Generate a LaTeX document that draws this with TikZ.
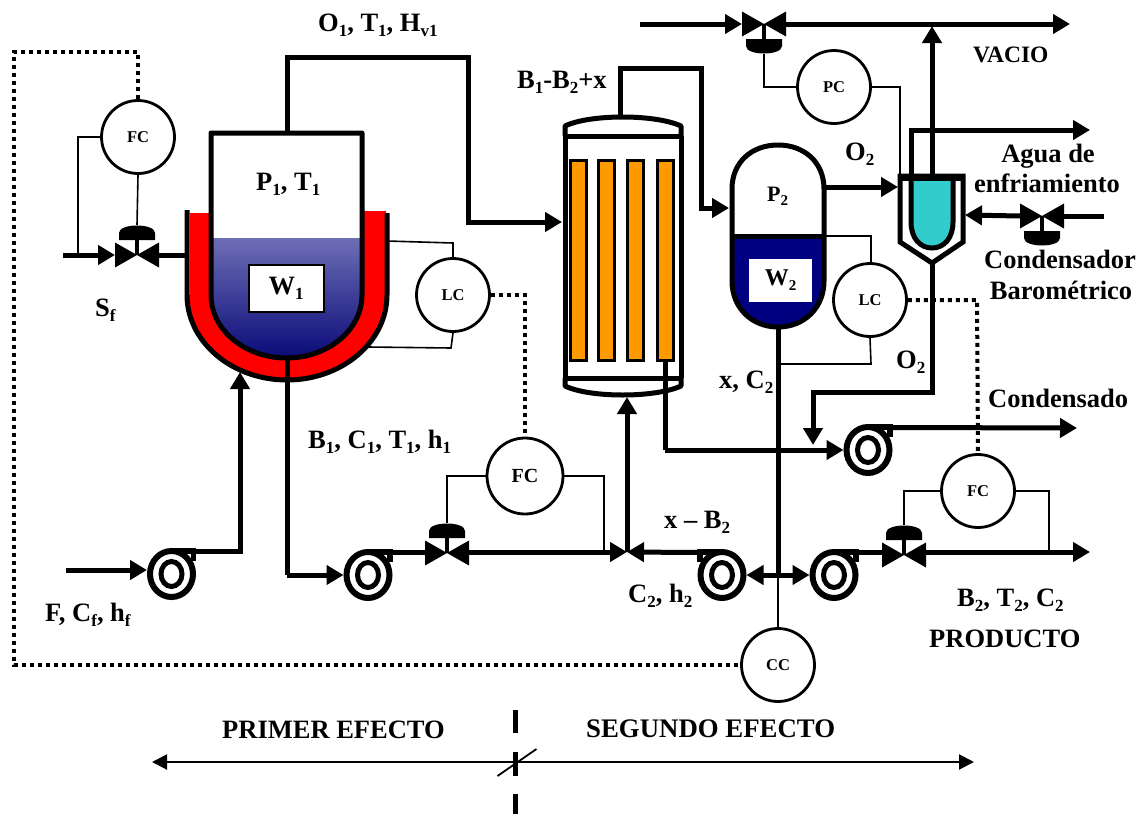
\documentclass[tikz,border=0pt]{standalone}
\usepackage{fontspec}
\setmainfont{Liberation Serif}
\usetikzlibrary{arrows.meta,calc,shapes.geometric}
\definecolor{liqa}{RGB}{110,110,182}
\definecolor{liqb}{RGB}{72,72,150}
\definecolor{liqc}{RGB}{10,10,120}
\definecolor{jacket}{RGB}{255,0,0}
\definecolor{tubeor}{RGB}{255,153,0}
\definecolor{teal2}{RGB}{51,204,204}
\definecolor{navy2}{RGB}{0,0,128}
\newcommand{\sbs}[1]{\raisebox{-0.2em}{\fontsize{17}{17}\selectfont #1}}
\newcommand{\sbsm}[1]{\raisebox{-0.2em}{\fontsize{15}{15}\selectfont #1}}
\tikzset{
  x=1pt,y=-1pt,
  pipe/.style={line width=5pt,line cap=butt,line join=miter},
  pipearrow/.style={pipe,-{Triangle[length=17pt,width=19pt]}},
  thin line/.style={line width=1.6pt},
  dotline/.style={line width=4pt,dash pattern=on 4pt off 4pt},
  vessel/.style={line width=5pt,line join=round},
  instr/.style={circle,draw,line width=2.8pt,minimum size=73pt,inner sep=0pt,font=\fontsize{16.5}{18}\selectfont\bfseries,fill=white},
  lbl/.style={anchor=base west,inner sep=0pt,font=\fontsize{26.5}{28}\selectfont\bfseries},
  lblc/.style={anchor=base,inner sep=0pt,font=\fontsize{26.5}{28}\selectfont\bfseries},
  pumpbody/.style={ellipse,draw,line width=6pt,minimum width=43pt,minimum height=46pt,inner sep=0pt,fill=white},
  valvebody/.style={minimum width=44pt,minimum height=25pt,inner sep=0pt,outer sep=0pt},
  tube/.style={draw,fill=tubeor,line width=3pt,minimum width=16pt,minimum height=200pt,inner sep=0pt},
}
% name, x, y, direction of the discharge (1 right, -1 left)
\newcommand{\pumpat}[4]{%
  \node[pumpbody] (#1) at (#2,#3) {};
  \begin{scope}[shift={(#2,#3)}]
    \draw[line width=5.5pt,line join=miter] (0,-23) -- (#4*22,-23) -- (#4*22,-13);
    \draw[line width=5pt] (0,0) ellipse[x radius=10.5pt,y radius=12.5pt];
    \coordinate (#1-d) at (#4*24,-22.5);
  \end{scope}}
% name, x, y, actuator side (1 up, -1 down)
\newcommand{\valveat}[4]{%
  \node[valvebody] (#1) at (#2,#3) {};
  \begin{scope}[shift={(#2,#3)},yscale=#4]
    \fill (-22,-12.5) -- (0,0) -- (-22,12.5) -- cycle;
    \fill (22,-12.5) -- (0,0) -- (22,12.5) -- cycle;
    \draw[line width=4pt] (0,0) -- (0,-15);
    \fill (-18,-15) -- (18,-15) -- (18,-22) .. controls (18,-32) and (-18,-32) .. (-18,-22) -- cycle;
    \coordinate (#1-a) at (0,-30);
  \end{scope}}
\begin{document}
\begin{tikzpicture}
\useasboundingbox (0,0) rectangle (1145,814);
\fill[white] (0,0) rectangle (1145,814);

% ---------- first effect vessel ----------
\fill[jacket] (190,213) -- (210,213) -- (210,295) -- (364,295) -- (364,211) -- (386,211) -- (386,295) -- (387,295)
  .. controls (387,342) and (342,380) .. (287,380) .. controls (232,380) and (187,342) .. (187,295) -- (190,295) -- cycle;
\fill[white] (211,295) .. controls (211,330) and (245,358) .. (286.5,358) .. controls (328,358) and (362,330) .. (362,295) -- (362,133) -- (211,133) -- cycle;
\shade[top color=liqa,middle color=liqb,bottom color=liqc]
  (211,238) -- (211,295) .. controls (211,330) and (245,358) .. (286.5,358) .. controls (328,358) and (362,330) .. (362,295) -- (362,238) -- cycle;
\draw[vessel] (211,295) .. controls (211,330) and (245,358) .. (286.5,358) .. controls (328,358) and (362,330) .. (362,295) -- (362,133) -- (211,133) -- cycle;
\draw[vessel] (187,210) -- (187,295) .. controls (187,342) and (232,380) .. (287,380) .. controls (342,380) and (387,342) .. (387,295) -- (387,213);
\coordinate (r1top) at (287,133);
\coordinate (r1bot) at (287,358);
\coordinate (r1jl) at (185,255);
\coordinate (r1jb) at (240,372);
\coordinate (r1lu) at (387,241);
\coordinate (r1ll) at (368,347);
\node[draw,fill=white,line width=2pt,minimum width=75pt,minimum height=47pt,inner sep=0pt,font=\fontsize{26.5}{28}\selectfont\bfseries] (w1) at (286,288) {W\sbs{1}};

% ---------- heat-exchanger column ----------
\fill[white] (565,125) rectangle (681,390);
\draw[vessel] (565,136) -- (565,126) .. controls (590,114) and (655,114) .. (681,126) -- (681,136);
\draw[vessel] (563,136) -- (683,136);
\draw[vessel] (565,136) -- (565,378);
\draw[vessel] (681,136) -- (681,378);
\draw[vessel] (563,378) -- (683,378);
\draw[vessel] (565,378) -- (565,386) .. controls (590,398) and (655,398) .. (681,386) -- (681,378);
\node[tube] (t1) at (578,260.5) {};
\node[tube] (t2) at (606.5,260.5) {};
\node[tube] (t3) at (635.5,260.5) {};
\node[tube] (t4) at (665,260.5) {};
\coordinate (coltop) at (620,118);
\coordinate (colin) at (562,222);
\coordinate (colbot) at (627,397);

% ---------- second effect vessel ----------
\fill[navy2] (732,236) -- (732,281) .. controls (732,308) and (752,328) .. (778,328) .. controls (804,328) and (824,308) .. (824,281) -- (824,236) -- cycle;
\draw[vessel] (732,236) -- (824,236);
\draw[vessel] (732,189) .. controls (732,162) and (752,145) .. (778,145) .. controls (804,145) and (824,162) .. (824,189) -- (824,281) .. controls (824,308) and (804,327) .. (778,327) .. controls (752,327) and (732,308) .. (732,281) -- cycle;
\node[fill=white,minimum width=63pt,minimum height=43pt,inner sep=0pt,font=\fontsize{24}{26}\selectfont\bfseries] (w2) at (780.5,280.5) {W\sbsm{2}};
\coordinate (p2in) at (729,208);
\coordinate (p2out) at (824,187);
\coordinate (p2bot) at (778,327);
\coordinate (p2lev) at (824,236);
\coordinate (p2low) at (778,364);

% ---------- barometric condenser ----------
\fill[teal2] (911,181) -- (911,222) .. controls (911,238) and (920,248) .. (932,248) .. controls (944,248) and (953,238) .. (953,222) -- (953,181) -- cycle;
\draw[vessel,line join=miter] (900,176) -- (900,242) -- (932,263) -- (963,242) -- (963,176) -- cycle;
\draw[line width=5pt] (911,176) -- (911,222) .. controls (911,238) and (920,248) .. (932,248) .. controls (944,248) and (953,238) .. (953,222) -- (953,176);
\draw[line width=5pt] (900,178) -- (963,178);
\coordinate (cdtopa) at (932,176);
\coordinate (cdtopb) at (911,176);
\coordinate (cdleft) at (898,187);
\coordinate (cdright) at (965,215);
\coordinate (cdbot) at (932,263);
\coordinate (cdthin) at (900,175);

% ---------- instruments ----------
\node[instr] (fc1) at (138,137) {FC};
\node[instr] (lc1) at (453,295) {LC};
\node[instr,minimum size=76pt,font=\fontsize{20}{22}\selectfont\bfseries] (fc2) at (525,476) {FC};
\node[instr] (pc) at (834,87) {PC};
\node[instr] (lc2) at (870,300) {LC};
\node[instr] (fc3) at (978,491) {FC};
\node[instr] (cc) at (778,665) {CC};

% ---------- valves ----------
\valveat{v1}{137}{255}{1}
\valveat{v2}{447}{553}{1}
\valveat{v3}{904}{555}{1}
\valveat{v4}{764}{24}{-1}
\valveat{v5}{1042}{216}{-1}

% ---------- free line ends ----------
\coordinate (s1) at (63,255);
\coordinate (feed) at (66,570);
\coordinate (feedtip) at (147,570);
\coordinate (vacin) at (640,24);
\coordinate (vacout) at (1070,24);
\coordinate (vacj) at (932,26);
\coordinate (cwout) at (1090,130);
\coordinate (cwin) at (1104,216);
\coordinate (cond) at (1077,428);
\coordinate (prod) at (1090,552);
\coordinate (j) at (627,552);
\coordinate (cj) at (813,445);
\coordinate (ds) at (778,575);
\coordinate (v2w) at (425,552.5);
\coordinate (v2e) at (469,552);
\coordinate (v3w) at (882,552.5);
\coordinate (v3e) at (926,552);

% ---------- pumps and thick lines ----------
\pumpat{pa}{171.5}{574}{1}
\pumpat{pb}{368}{575}{1}
\pumpat{pc1}{722}{575}{-1}
\pumpat{pd}{834}{575}{1}
\pumpat{pe}{868}{450}{1}

\draw[pipe] (r1top) -- (287,57) -- (468,57) -- (468,222) -- (540,222);
\draw[pipearrow] (540,222) -- (colin);
\draw[pipe] (coltop) -- (620,68) -- (701,68) -- (701,208) -- (715,208);
\draw[pipearrow] (715,208) -- (p2in);
\draw[pipearrow] (p2out) -- (cdleft);
\draw[pipearrow] (s1) -- (v1.west);
\draw[pipe] (v1.east) -- (r1jl);
\draw[pipearrow] (feed) -- (feedtip);
\draw[pipearrow] (pa-d) -| (r1jb);
\draw[pipe] (r1bot) -- (287,575);
\draw[pipearrow] (287,575) -- (pb.west);
\draw[pipe] (pb-d) -- (v2w);
\draw[pipearrow] (v2e) -- (j);
\draw[pipearrow] (pc1-d) -- (j);
\draw[pipearrow] (j) -- (colbot);
\draw[pipe] (t4.south) -- (665,450);
\draw[pipearrow] (665,450) -- (pe.west);
\draw[pipe] (p2bot) -- (ds);
\draw[pipearrow] (ds) -- (pd.west);
\draw[pipearrow] (ds) -- (pc1.east);
\draw[pipe] (pd-d) -- (v3w);
\draw[pipearrow] (v3e) -- (prod);
\draw[pipearrow] (pe-d) -- (cond);
\draw[pipe] (cdbot) -- (932,392) -- (813,392) -- (813,430);
\draw[pipearrow] (813,425) -- (cj);
\draw[pipearrow] (vacin) -- (v4.west);
\draw[pipearrow] (v4.east) -- (vacout);
\draw[pipearrow] (cdtopa) -- (vacj);
\draw[pipearrow] (cdtopb) -- (911,130) -- (cwout);
\draw[pipe] (cwin) -- (v5.east);
\draw[pipearrow] (v5.west) -- (cdright);

% ---------- thin signal lines ----------
\draw[thin line] (fc1.south) -- (v1-a);
\draw[thin line] (fc1.west) -- (78,137) -- (78,255);
\draw[thin line] (r1lu) -- (453,243) -- (lc1.north);
\draw[thin line] (lc1.south) -- (451,348) -- (r1ll);
\draw[thin line] (fc2.west) -| (v2-a);
\draw[thin line] (fc2.east) -- (604,476) -- (604,552);
\draw[thin line] (v4-a) -- (764,87) -- (pc.west);
\draw[thin line] (pc.east) -- (900,87) -- (cdthin);
\draw[thin line] (p2lev) -- (871,236) -- (871,263);
\draw[thin line] (lc2.south) -- (871,364) -- (p2low);
\draw[thin line] (fc3.west) -| (v3-a);
\draw[thin line] (fc3.east) -- (1049,491) -- (1049,552);
\draw[thin line] (ds) -- (cc.north);

% ---------- dotted control lines ----------
\draw[dotline] (fc1.north) -- (138,52) -- (14,52) -- (14,665) -- (cc.west);
\draw[dotline] (lc1.east) -- (525,295) -- (fc2.north);
\draw[dotline] (lc2.east) -- (977,300) -- (fc3.north);

% ---------- effect divider ----------
\coordinate (ela) at (152,762);
\coordinate (elb) at (974,762);
\coordinate (elc) at (515,762);
\draw[line width=2pt,{Triangle[length=15pt,width=15pt]}-{Triangle[length=15pt,width=15pt]}] (ela) -- (elb);
\draw[line width=5pt] (515,710) -- (515,733);
\draw[line width=5pt] (515,752) -- (515,776);
\draw[line width=5pt] (515,794) -- (515,814);
\draw[line width=1.8pt] ($(elc)+(-17.5,14)$) -- ($(elc)+(21.5,-13)$);

% ---------- labels ----------
\node[lbl] (l1) at (318,31) {O\sbs{1}, T\sbs{1}, H\sbs{v1}};
\node[lbl] (l2) at (256,190) {P\sbs{1}, T\sbs{1}};
\node[lbl] (l3) at (95,316) {S\sbs{f}};
\node[lbl] (l4) at (517,88) {B\sbs{1}-B\sbs{2}+x};
\node[lbl,font=\fontsize{23.5}{26}\selectfont\bfseries] (l5) at (973,62) {VACIO};
\node[lbl] (l6) at (845,160) {O\sbs{2}};
\node[lblc] (l7) at (1048,162) {Agua de};
\node[lblc] (l8) at (1047,192) {enfriamiento};
\node[lblc] (l9) at (1060,268) {Condensador};
\node[lblc] (l10) at (1061,299) {Barométrico};
\node[lbl,font=\fontsize{22}{24}\selectfont\bfseries] (l11) at (767,201) {P\sbsm{2}};
\node[lbl] (l12) at (719,388) {x, C\sbs{2}};
\node[lbl] (l13) at (896,368) {O\sbs{2}};
\node[lbl] (l14) at (988,407) {Condensado};
\node[lbl] (l15) at (308,448) {B\sbs{1}, C\sbs{1}, T\sbs{1}, h\sbs{1}};
\node[lbl] (l16) at (45,621) {F, C\sbs{f}, h\sbs{f}};
\node[lbl] (l17) at (664,528) {x – B\sbs{2}};
\node[lbl] (l18) at (628,602) {C\sbs{2}, h\sbs{2}};
\node[lbl] (l19) at (957,606) {B\sbs{2}, T\sbs{2}, C\sbs{2}};
\node[lbl] (l20) at (929,647) {PRODUCTO};
\node[lbl] (l21) at (222,738) {PRIMER EFECTO};
\node[lbl,font=\fontsize{26.8}{28}\selectfont\bfseries] (l22) at (586,737) {SEGUNDO EFECTO};
\end{tikzpicture}
\end{document}
